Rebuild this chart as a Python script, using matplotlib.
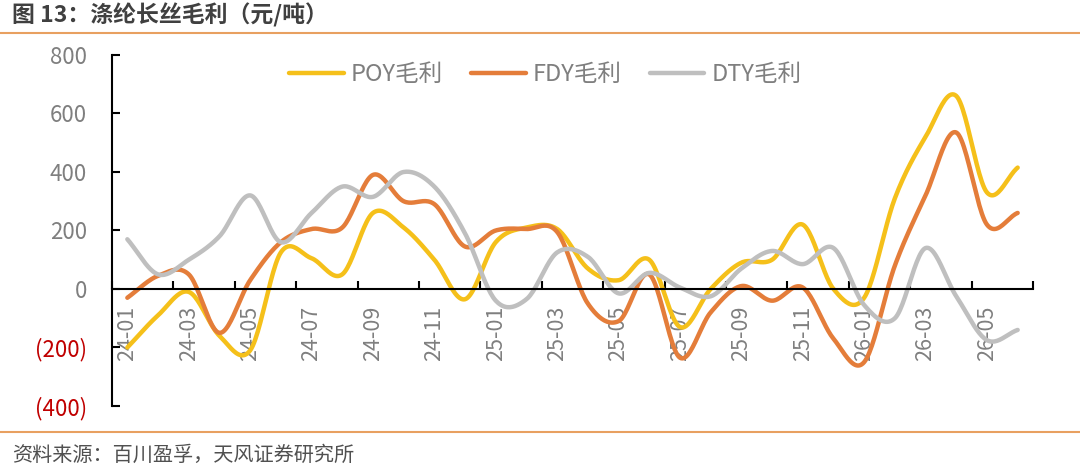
import numpy as np
import matplotlib
matplotlib.use('Agg')
import matplotlib.pyplot as plt

plt.rcParams['font.family'] = ['Noto Sans CJK SC', 'DejaVu Sans']

# 月份（24-01 到 26-06）
months = ['24-01', '24-02', '24-03', '24-04', '24-05', '24-06', '24-07', '24-08', '24-09', '24-10',
          '24-11', '24-12', '25-01', '25-02', '25-03', '25-04', '25-05', '25-06', '25-07', '25-08',
          '25-09', '25-10', '25-11', '25-12', '26-01', '26-02', '26-03', '26-04', '26-05', '26-06']

# 毛利数据（元/吨）
poy = [-200, -90, -10, -160, -210, 125, 105, 50, 260, 210,
       100, -35, 160, 210, 205, 70, 30, 100, -130, 0,
       90, 100, 220, 0, -30, 310, 520, 660, 330, 415]
fdy = [-30, 45, 50, -150, 30, 160, 205, 210, 390, 300,
       290, 145, 200, 205, 195, -50, -110, 50, -235, -80,
       10, -40, 5, -170, -250, 80, 320, 535, 220, 260]
dty = [170, 50, 100, 180, 320, 160, 260, 350, 315, 400,
       350, 190, -40, -35, 125, 110, -15, 55, 5, -25,
       70, 130, 85, 140, -55, -100, 140, -25, -175, -140]

yticks = [-400, -200, 0, 200, 400, 600, 800]


def smooth(y, n=24):
    # Catmull-Rom 曲线，类似 Excel 的平滑线
    y = np.asarray(y, dtype=float)
    x = np.arange(len(y), dtype=float)
    p = np.concatenate([[2 * y[0] - y[1]], y, [2 * y[-1] - y[-2]]])
    xs, ys = [], []
    for i in range(len(y) - 1):
        t = np.linspace(0, 1, n, endpoint=False)
        p0, p1, p2, p3 = p[i], p[i + 1], p[i + 2], p[i + 3]
        yy = 0.5 * ((2 * p1) + (-p0 + p2) * t + (2 * p0 - 5 * p1 + 4 * p2 - p3) * t ** 2
                    + (-p0 + 3 * p1 - 3 * p2 + p3) * t ** 3)
        xs.append(x[i] + t)
        ys.append(yy)
    xs.append([x[-1]])
    ys.append([y[-1]])
    return np.concatenate(xs), np.concatenate(ys)


fig = plt.figure(figsize=(10.8, 4.66), dpi=100)
ax = fig.add_axes([0.1037, 0.1288, 0.8528, 0.7532])

series = [(poy, '#F5C01A', 'POY毛利'), (fdy, '#E47D3A', 'FDY毛利'), (dty, '#BFBFBF', 'DTY毛利')]
for vals, col, lab in series:
    xs, ys = smooth(vals)
    ax.plot(xs, ys, color=col, linewidth=3.2, label=lab, solid_capstyle='round')

ax.set_xlim(-0.5, len(months) - 0.5)
ax.set_ylim(-400, 800)

# 坐标轴样式
for s in ['top', 'right']:
    ax.spines[s].set_visible(False)
ax.spines['bottom'].set_position(('data', 0))
ax.spines['left'].set_linewidth(1.5)
ax.spines['bottom'].set_linewidth(1.5)

ax.set_yticks(yticks)
ax.set_yticklabels([str(v) if v >= 0 else '(%d)' % -v for v in yticks])
for lbl, v in zip(ax.get_yticklabels(), yticks):
    lbl.set_color('#C00000' if v < 0 else '#7F7F7F')
ax.tick_params(axis='y', direction='in', length=6, width=1.5, labelsize=16, pad=18)

ax.set_xticks(np.arange(-0.5, len(months), 2))
ax.set_xticklabels([])
ax.set_xticks(np.arange(0, len(months), 2), minor=True)
ax.set_xticklabels(months[::2], minor=True, rotation=90, color='#7F7F7F', fontsize=15.5)
ax.tick_params(axis='x', which='major', direction='in', length=6, width=1.5)
ax.tick_params(axis='x', which='minor', length=0, pad=12)

fig.legend(loc='center', bbox_to_anchor=(0.505, 0.84), ncol=3, frameon=False,
           fontsize=17, handlelength=2.3, handletextpad=0.3, columnspacing=1.2,
           labelcolor='#7F7F7F')

# 标题、分隔线和资料来源
fig.text(0.011, 0.968, '图 13：涤纶长丝毛利（元/吨）', fontsize=16.5, fontweight='bold',
         color='#404040', va='center', ha='left')
fig.add_artist(plt.Line2D([0, 1], [0.93, 0.93], color='#E8A060', linewidth=1.5))
fig.add_artist(plt.Line2D([0, 1], [0.073, 0.073], color='#E8A060', linewidth=1.5))
fig.text(0.011, 0.023, '资料来源：百川盈孚，天风证券研究所', fontsize=14.5,
         color='#505050', va='center', ha='left')

fig.savefig('out.png', dpi=100)
